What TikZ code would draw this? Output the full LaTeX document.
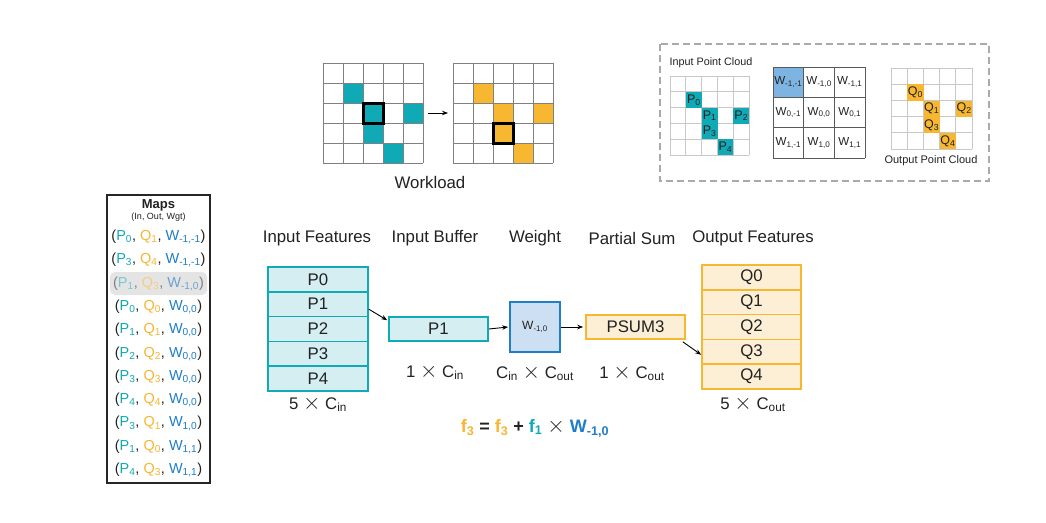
\documentclass[tikz,border=0pt]{standalone}
\usepackage{fontspec}
\usepackage{graphicx}
\setmainfont{Liberation Sans}
\usetikzlibrary{arrows.meta}
\definecolor{cP}{RGB}{16,170,182}
\definecolor{cQ}{RGB}{247,183,49}
\definecolor{cW}{RGB}{30,126,200}
\definecolor{cPl}{RGB}{120,200,208}
\definecolor{cQl}{RGB}{245,205,130}
\definecolor{cWl}{RGB}{110,160,210}
\definecolor{txt}{RGB}{34,34,34}
\definecolor{fillP}{RGB}{212,238,241}
\definecolor{fillQ}{RGB}{253,239,214}
\definecolor{fillW}{RGB}{205,224,243}
\definecolor{wcell}{RGB}{125,180,225}
\definecolor{gline}{RGB}{128,128,128}
\definecolor{lgline}{RGB}{200,200,200}
\definecolor{dashc}{RGB}{170,170,170}
\definecolor{hl}{RGB}{228,228,228}
\newcommand\sbs[1]{\textsubscript{#1}}
\newcommand\tms{\scalebox{1.3}{$\times$}}
\newcommand\mrow[3]{\textcolor{txt}{(}\textcolor{cP}{P\sbs{#1}}\textcolor{txt}{,} \textcolor{cQ}{Q\sbs{#2}}\textcolor{txt}{,} \textcolor{cW}{W\sbs{#3}}\textcolor{txt}{)}}
\newcommand\mrowl[3]{\textcolor{gray}{(}\textcolor{cPl}{P\sbs{#1}}\textcolor{gray}{,} \textcolor{cQl}{Q\sbs{#2}}\textcolor{gray}{,} \textcolor{cWl}{W\sbs{#3}}\textcolor{gray}{)}}
\tikzset{
  big/.style={font=\fontsize{16.8}{19}\selectfont, text=txt},
  feat/.style={draw=cP, fill=fillP, line width=1.6pt, minimum width=100pt, minimum height=24.8pt, inner sep=0pt, big},
  ofeat/.style={draw=cQ, fill=fillQ, line width=1.6pt, minimum width=99pt, minimum height=24.8pt, inner sep=0pt, big},
  conn/.style={-{Stealth[length=6pt,width=4.5pt]}, line width=0.9pt, black},
  pcell/.style={fill=cP, minimum width=15.8pt, minimum height=15.8pt, inner sep=0pt, anchor=north west, font=\fontsize{12.5}{14}\selectfont, text=txt},
  qcell/.style={fill=cQ, minimum width=16.2pt, minimum height=16.2pt, inner sep=0pt, anchor=north west, font=\fontsize{12.5}{14}\selectfont, text=txt},
  wtxt/.style={font=\fontsize{11.6}{14}\selectfont, text=txt, inner sep=0pt},
  maprow/.style={font=\fontsize{14.5}{17}\selectfont, inner sep=0pt}
}
\begin{document}
\begin{tikzpicture}[x=1pt,y=-1pt]
\useasboundingbox[fill=white] (0,0) rectangle (1046,522);

% ---------- Workload grids ----------
\foreach \c/\r in {1/1,2/2,4/2,2/3,3/4} {
  \fill[cP] (323+20*\c,63+20*\r) rectangle ++(20,20);
}
\foreach \c/\r in {1/1,2/2,4/2,2/3,3/4} {
  \fill[cQ] (453+20*\c,63+20*\r) rectangle ++(20,20);
}
\foreach \i in {0,...,5} {
  \draw[gline, line width=0.9pt] (323+20*\i,63) -- (323+20*\i,163);
  \draw[gline, line width=0.9pt] (323,63+20*\i) -- (423,63+20*\i);
  \draw[gline, line width=0.9pt] (453+20*\i,63) -- (453+20*\i,163);
  \draw[gline, line width=0.9pt] (453,63+20*\i) -- (553,63+20*\i);
}
\draw[black, line width=3pt] (363,103) rectangle (383,123);
\draw[black, line width=3pt] (493,123) rectangle (513,143);
\coordinate (gl) at (428,113);
\coordinate (gr) at (448,113);
\draw[conn] (gl) -- (gr);
\node[big] (workload) at (430,182) {Workload};

% ---------- Dashed legend box ----------
\draw[dashc, line width=1.6pt, dash pattern=on 7pt off 4pt] (660,44) rectangle (989,181);
\node[anchor=west, font=\fontsize{10.8}{13}\selectfont, text=txt] (ipc) at (666,63) {Input Point Cloud};
\foreach \i in {0,...,5} {
  \draw[lgline, line width=0.8pt] (670+15.8*\i,76) -- (670+15.8*\i,155);
  \draw[lgline, line width=0.8pt] (670,76+15.8*\i) -- (749,76+15.8*\i);
}
\foreach \c/\r/\k in {1/1/0,2/2/1,4/2/2,2/3/3,3/4/4} {
  \node[pcell] (pc\k) at (670+15.8*\c,76+15.8*\r) {P\sbs{\k}};
}
% weight grid
\fill[wcell] (773,67) rectangle (803.7,97.3);
\foreach \i in {0,...,3} {
  \draw[gray!70!black, line width=0.8pt] (773+30.7*\i,67) -- (773+30.7*\i,158);
  \draw[gray!70!black, line width=0.8pt] (773,67+30.3*\i) -- (865,67+30.3*\i);
}
\foreach \r/\rl in {0/-1,1/0,2/1} {
  \foreach \c/\cl in {0/-1,1/0,2/1} {
    \node[wtxt] (w\r\c) at (788.35+30.7*\c,82.15+30.3*\r) {W\sbs{\rl,\cl}};
  }
}
% output point cloud
\foreach \i in {0,...,5} {
  \draw[lgline, line width=0.8pt] (891+16.2*\i,68) -- (891+16.2*\i,149);
  \draw[lgline, line width=0.8pt] (891,68+16.2*\i) -- (972,68+16.2*\i);
}
\foreach \c/\r/\k in {1/1/0,2/2/1,4/2/2,2/3/3,3/4/4} {
  \node[qcell] (qc\k) at (891+16.2*\c,68+16.2*\r) {Q\sbs{\k}};
}
\node[font=\fontsize{11}{13}\selectfont, text=txt] (opc) at (931,161) {Output Point Cloud};

% ---------- Maps ----------
\fill[hl, rounded corners=5pt] (110,272) rectangle (207,295);
\draw[black!85, line width=1.1pt] (107,195) rectangle (210,483);
\node[font=\bfseries\fontsize{13}{15}\selectfont, text=txt] (mapst) at (158.5,205) {Maps};
\node[font=\fontsize{9}{10}\selectfont, text=txt] (mapss) at (158.5,217.5) {(In, Out, Wgt)};
\node[maprow] (m0) at (158.5,237) {\mrow{0}{1}{-1,-1}};
\node[maprow] (m1) at (158.5,260.3) {\mrow{3}{4}{-1,-1}};
\node[maprow] (m2) at (158.5,283.6) {\mrowl{1}{3}{-1,0}};
\node[maprow] (m3) at (158.5,306.9) {\mrow{0}{0}{0,0}};
\node[maprow] (m4) at (158.5,330.2) {\mrow{1}{1}{0,0}};
\node[maprow] (m5) at (158.5,353.5) {\mrow{2}{2}{0,0}};
\node[maprow] (m6) at (158.5,376.8) {\mrow{3}{3}{0,0}};
\node[maprow] (m7) at (158.5,400.1) {\mrow{4}{4}{0,0}};
\node[maprow] (m8) at (158.5,423.4) {\mrow{3}{1}{1,0}};
\node[maprow] (m9) at (158.5,446.7) {\mrow{1}{0}{1,1}};
\node[maprow] (m10) at (158.5,470) {\mrow{4}{3}{1,1}};

% ---------- Dataflow ----------
\node[big] (t1) at (317,238) {Input Features};
\node[big] (t2) at (435,238) {Input Buffer};
\node[big] (t3) at (535,238) {Weight};
\node[big] (t4) at (632,238) {Partial Sum};
\node[big] (t5) at (753,238) {Output Features};

\foreach \k in {0,...,4} {
  \node[feat] (in\k) at (318,279.4+24.8*\k) {P\k};
}
\foreach \k in {0,...,4} {
  \node[ofeat] (out\k) at (751.5,277.4+24.8*\k) {Q\k};
}
\node[feat, minimum width=99pt, minimum height=24pt] (buf) at (438.5,329) {P1};
\node[draw=cW, fill=fillW, line width=1.6pt, minimum width=50pt, minimum height=50pt, inner sep=0pt, font=\fontsize{12}{14}\selectfont, text=txt] (wt) at (535,327) {W\sbs{-1,0}};
\node[ofeat, minimum height=24pt] (ps) at (635.5,327) {PSUM3};

\draw[conn] ([yshift=-5pt]in1.east) -- ([xshift=-1pt,yshift=-4pt]buf.north west);
\draw[conn] (buf.east) -- ([xshift=-1pt]wt.west);
\draw[conn] (wt.east) -- ([xshift=-2pt]ps.west);
\draw[conn] ([xshift=-3pt,yshift=-2pt]ps.south east) -- ([yshift=-3pt]out3.west);

\node[big] (d1) at (318,404) {5 \tms{} C\sbs{in}};
\node[big] (d2) at (435,372) {1 \tms{} C\sbs{in}};
\node[big] (d3) at (535,373) {C\sbs{in} \tms{} C\sbs{out}};
\node[big] (d4) at (632,373) {1 \tms{} C\sbs{out}};
\node[big] (d5) at (753,404) {5 \tms{} C\sbs{out}};

\node[font=\bfseries\fontsize{18}{20}\selectfont] (eq) at (535,428)
  {\textcolor{cQ}{f\sbs{3}} \textcolor{txt}{=} \textcolor{cQ}{f\sbs{3}} \textcolor{txt}{+} \textcolor{cP}{f\sbs{1}} \textcolor{txt}{\tms} \textcolor{cW}{W\sbs{-1,0}}};
\end{tikzpicture}
\end{document}
